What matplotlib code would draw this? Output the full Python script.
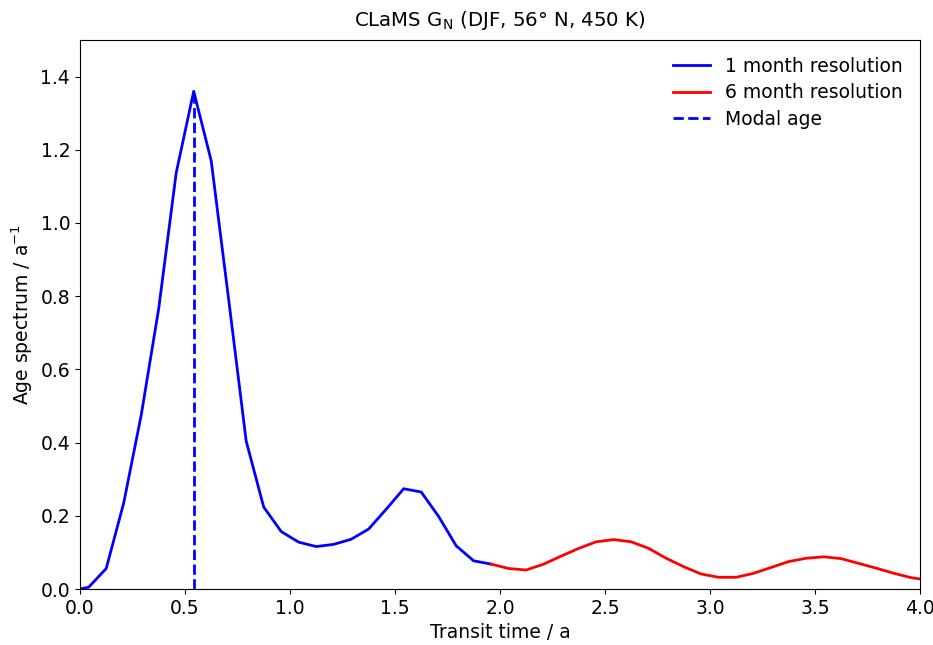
#!/usr/bin/env python

import matplotlib
matplotlib.use('Agg')
import matplotlib.pyplot as plt
import numpy as np

# transit time in years, sampled at mid-month
blue_x = np.array([0.0] + [(k + 0.5) / 12 for k in range(24)])
blue_y = [0.0, 0.005, 0.056, 0.235, 0.475, 0.766, 1.137, 1.36, 1.17, 0.79,
          0.404, 0.224, 0.157, 0.128, 0.116, 0.122, 0.136, 0.164, 0.218, 0.274,
          0.265, 0.198, 0.118, 0.077, 0.068]

red_x = np.array([(k + 0.5) / 12 for k in range(23, 49)])
red_y = [0.068, 0.056, 0.052, 0.068, 0.090, 0.111, 0.129, 0.135, 0.129, 0.111,
         0.084, 0.061, 0.041, 0.032, 0.032, 0.043, 0.059, 0.075, 0.084, 0.088,
         0.083, 0.070, 0.057, 0.043, 0.031, 0.024]

modal_age = 6.5 / 12
modal_value = 1.36

plt.rcParams['font.size'] = 13.5

fig = plt.figure(figsize=(9.33, 6.45), dpi=100)
ax = fig.add_axes([0.0857, 0.0868, 0.9003, 0.8512])

ax.plot(blue_x, blue_y, color='blue', linewidth=2, label='1 month resolution')
ax.plot(red_x, red_y, color='red', linewidth=2, label='6 month resolution')
ax.plot([modal_age, modal_age], [0, modal_value], color='blue', linestyle='--',
        linewidth=2, label='Modal age')

ax.set_xlim(0, 4)
ax.set_ylim(0, 1.5)
ax.set_yticks(np.arange(0, 1.41, 0.2))
ax.set_xlabel('Transit time / a')
ax.set_ylabel('Age spectrum / a$^{-1}$')
ax.set_title('CLaMS G$_\\mathrm{N}$ (DJF, 56° N, 450 K)', fontsize=14.2, pad=10)
ax.legend(loc='upper right', frameon=False, labelspacing=0.4)

fig.savefig('out.png', dpi=100)
plt.close()
